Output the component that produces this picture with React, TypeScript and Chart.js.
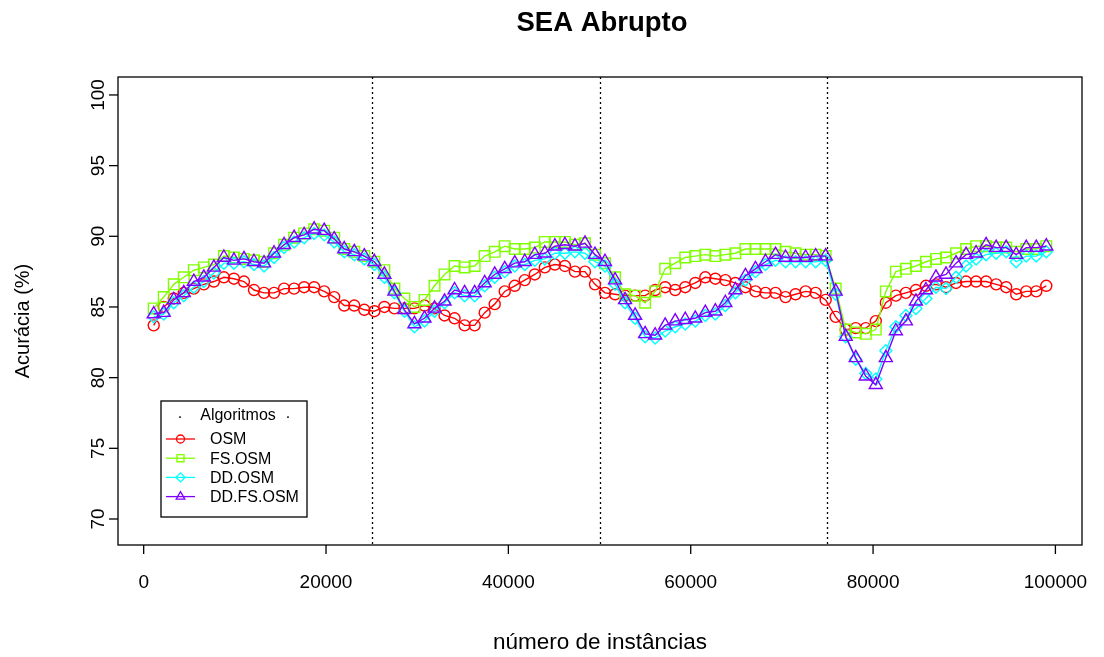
import React, { useEffect, useRef } from 'react';
import { Chart, registerables } from 'chart.js';

Chart.register(...registerables);

const chartTitle = 'SEA Abrupto';
const xTitle = 'número de instâncias';
const yTitle = 'Acurácia (%)';
const legendTitle = 'Algoritmos';

const instances = [
  1100, 2200, 3300, 4400, 5500, 6600, 7700, 8800, 9900, 11000,
  12100, 13200, 14300, 15400, 16500, 17600, 18700, 19800, 20900, 22000,
  23100, 24200, 25300, 26400, 27500, 28600, 29700, 30800, 31900, 33000,
  34100, 35200, 36300, 37400, 38500, 39600, 40700, 41800, 42900, 44000,
  45100, 46200, 47300, 48400, 49500, 50600, 51700, 52800, 53900, 55000,
  56100, 57200, 58300, 59400, 60500, 61600, 62700, 63800, 64900, 66000,
  67100, 68200, 69300, 70400, 71500, 72600, 73700, 74800, 75900, 77000,
  78100, 79200, 80300, 81400, 82500, 83600, 84700, 85800, 86900, 88000,
  89100, 90200, 91300, 92400, 93500, 94600, 95700, 96800, 97900, 99000,
];

const osm = [
  83.7, 85.0, 85.6, 86.0, 86.3, 86.6, 86.8, 87.1, 87.0, 86.8,
  86.2, 86.0, 86.0, 86.3, 86.3, 86.4, 86.4, 86.1, 85.7, 85.1,
  85.1, 84.8, 84.7, 85.0, 84.9, 84.9, 84.9, 85.1, 84.9, 84.4,
  84.2, 83.7, 83.7, 84.6, 85.2, 86.1, 86.5, 86.9, 87.3, 87.8,
  88.0, 87.9, 87.5, 87.5, 86.6, 86.0, 85.9, 85.8, 85.8, 85.8,
  86.2, 86.4, 86.2, 86.4, 86.7, 87.1, 87.0, 86.9, 86.7, 86.4,
  86.1, 86.0, 86.0, 85.7, 85.9, 86.1, 86.0, 85.5, 84.3, 83.4,
  83.5, 83.5, 84.0, 85.3, 85.8, 86.0, 86.2, 86.5, 86.6, 86.4,
  86.7, 86.8, 86.8, 86.8, 86.6, 86.4, 85.9, 86.1, 86.1, 86.5,
];

const fsOsm = [
  84.9, 85.7, 86.6, 87.1, 87.6, 87.8, 88.0, 88.6, 88.5, 88.4,
  88.3, 88.2, 88.8, 89.4, 89.9, 90.2, 90.5, 90.4, 89.9, 89.1,
  88.9, 88.6, 88.2, 87.6, 86.3, 85.6, 85.0, 85.5, 86.5, 87.3,
  87.9, 87.8, 87.9, 88.6, 88.9, 89.3, 89.1, 89.1, 89.2, 89.6,
  89.6, 89.6, 89.4, 89.5, 88.7, 88.1, 87.1, 85.9, 85.8, 85.3,
  86.1, 87.7, 88.1, 88.5, 88.6, 88.7, 88.6, 88.7, 88.8, 89.1,
  89.1, 89.1, 89.1, 88.9, 88.8, 88.7, 88.7, 88.6, 86.3, 83.4,
  83.2, 83.1, 83.4, 86.1, 87.5, 87.7, 87.9, 88.2, 88.4, 88.5,
  88.8, 89.1, 89.3, 89.3, 89.2, 89.2, 88.9, 89.1, 89.1, 89.3,
];

const ddOsm = [
  84.3, 84.5, 85.3, 85.8, 86.4, 86.8, 87.4, 88.1, 88.1, 88.2,
  88.0, 87.9, 88.5, 89.2, 89.6, 89.9, 90.2, 90.1, 89.6, 88.9,
  88.7, 88.4, 88.0, 87.1, 86.0, 84.7, 83.6, 84.0, 84.7, 85.3,
  86.0, 85.8, 85.8, 86.5, 87.1, 87.5, 87.9, 88.0, 88.3, 88.4,
  88.8, 88.8, 88.9, 88.8, 88.2, 87.9, 86.6, 85.3, 84.2, 82.9,
  82.8, 83.3, 83.6, 83.8, 84.0, 84.4, 84.5, 85.1, 86.0, 86.9,
  87.5, 88.0, 88.3, 88.2, 88.2, 88.2, 88.2, 88.3, 85.9, 82.9,
  81.3, 80.3, 79.9, 81.9, 83.6, 84.4, 84.9, 85.6, 86.4, 86.3,
  87.1, 87.9, 88.4, 88.7, 88.8, 88.9, 88.2, 88.6, 88.6, 88.9,
];

const ddFsOsm = [
  84.5, 84.6, 85.5, 86.0, 86.8, 87.1, 87.8, 88.5, 88.3, 88.4,
  88.2, 88.1, 88.8, 89.4, 89.9, 90.1, 90.5, 90.4, 89.8, 89.1,
  88.9, 88.6, 88.2, 87.3, 86.1, 84.8, 83.8, 84.2, 84.9, 85.4,
  86.2, 86.0, 86.0, 86.7, 87.3, 87.7, 88.1, 88.2, 88.7, 88.8,
  89.3, 89.4, 89.3, 89.5, 88.7, 88.2, 86.9, 85.5, 84.4, 83.1,
  83.0, 83.7, 84.0, 84.1, 84.2, 84.6, 84.7, 85.3, 86.2, 87.2,
  87.7, 88.2, 88.7, 88.5, 88.5, 88.5, 88.6, 88.6, 86.1, 82.9,
  81.4, 80.1, 79.5, 81.4, 83.3, 84.0, 85.4, 86.2, 87.1, 87.3,
  88.1, 88.7, 88.8, 89.4, 89.2, 89.2, 88.7, 89.2, 89.2, 89.3,
];

const seriesNames = ['OSM', 'FS.OSM', 'DD.OSM', 'DD.FS.OSM'];
const seriesColors = ['#FF0000', '#80FF00', '#00FFFF', '#8000FF'];
const seriesMarkers = ['circle', 'rect', 'rectRot', 'triangle'];
const seriesRadius = [5.5, 7.5, 6, 7.5];

const xTicks = [0, 20000, 40000, 60000, 80000, 100000];
const yTicks = [70, 75, 80, 85, 90, 95, 100];
const driftPoints = [25000, 50000, 75000];

const FONT = '"Liberation Sans", Arial, Helvetica, sans-serif';

function drawMarker(ctx: CanvasRenderingContext2D, style: string, x: number, y: number, r: number) {
  ctx.beginPath();
  if (style === 'circle') {
    ctx.arc(x, y, r, 0, Math.PI * 2);
  } else if (style === 'rect') {
    const s = r * Math.SQRT1_2;
    ctx.rect(x - s, y - s, 2 * s, 2 * s);
  } else if (style === 'rectRot') {
    ctx.moveTo(x - r, y);
    ctx.lineTo(x, y - r);
    ctx.lineTo(x + r, y);
    ctx.lineTo(x, y + r);
    ctx.closePath();
  } else {
    const h = r * 1.5;
    const side = h / (Math.sqrt(3) / 2);
    ctx.moveTo(x, y - (2 / 3) * h);
    ctx.lineTo(x + side / 2, y + h / 3);
    ctx.lineTo(x - side / 2, y + h / 3);
    ctx.closePath();
  }
  ctx.stroke();
}

const framePlugin = {
  id: 'rframe',
  beforeDatasetsDraw(chart: any) {
    const { ctx, chartArea, scales } = chart;
    ctx.save();
    ctx.strokeStyle = '#000000';
    ctx.lineWidth = 1.3;
    ctx.setLineDash([2, 3]);
    driftPoints.forEach((v) => {
      const px = Math.round(scales.x.getPixelForValue(v)) + 0.5;
      ctx.beginPath();
      ctx.moveTo(px, chartArea.top);
      ctx.lineTo(px, chartArea.bottom);
      ctx.stroke();
    });
    ctx.restore();
  },
  afterDraw(chart: any) {
    const { ctx, chartArea, scales } = chart;
    const { left, right, top, bottom } = chartArea;
    ctx.save();
    ctx.strokeStyle = '#000000';
    ctx.fillStyle = '#000000';
    ctx.lineWidth = 1.3;
    ctx.setLineDash([]);
    ctx.strokeRect(left, top, right - left, bottom - top);
    ctx.font = `19px ${FONT}`;
    ctx.textAlign = 'center';
    ctx.textBaseline = 'middle';
    xTicks.forEach((v) => {
      const px = scales.x.getPixelForValue(v);
      ctx.beginPath();
      ctx.moveTo(px, bottom);
      ctx.lineTo(px, bottom + 9);
      ctx.stroke();
      ctx.fillText(String(v), px, 583);
    });
    yTicks.forEach((v) => {
      const py = scales.y.getPixelForValue(v);
      ctx.beginPath();
      ctx.moveTo(left, py);
      ctx.lineTo(left - 9, py);
      ctx.stroke();
      ctx.save();
      ctx.translate(99, py);
      ctx.rotate(-Math.PI / 2);
      ctx.fillText(String(v), 0, 0);
      ctx.restore();
    });
    ctx.font = `22.5px ${FONT}`;
    ctx.fillText(xTitle, (left + right) / 2, 643);
    ctx.font = `20px ${FONT}`;
    ctx.save();
    ctx.translate(23, 321);
    ctx.rotate(-Math.PI / 2);
    ctx.fillText(yTitle, 0, 0);
    ctx.restore();
    ctx.font = `bold 27.5px ${FONT}`;
    ctx.fillText(chartTitle, (left + right) / 2 + 2, 23);

    const lx = 161, ly = 401, lw = 146, lh = 116;
    ctx.fillStyle = '#FFFFFF';
    ctx.fillRect(lx, ly, lw, lh);
    ctx.strokeStyle = '#000000';
    ctx.lineWidth = 1.3;
    ctx.strokeRect(lx, ly, lw, lh);
    ctx.fillStyle = '#000000';
    ctx.font = `16px ${FONT}`;
    ctx.textAlign = 'center';
    ctx.fillText(legendTitle, lx + lw / 2 + 4, 416);
    ctx.fillText('.', 180, 414);
    ctx.fillText('.', 288, 414);
    ctx.textAlign = 'left';
    chart.data.datasets.forEach((ds: any, i: number) => {
      const yy = 439 + i * 19.2;
      ctx.strokeStyle = ds.borderColor;
      ctx.lineWidth = 1.3;
      ctx.beginPath();
      ctx.moveTo(166, yy);
      ctx.lineTo(195, yy);
      ctx.stroke();
      drawMarker(ctx, ds.pointStyle, 180.5, yy, [4, 5, 4.5, 5][i]);
      ctx.fillStyle = '#000000';
      ctx.fillText(ds.label, 210, yy + 1);
    });
    ctx.restore();
  },
};

const seriesData = [osm, fsOsm, ddOsm, ddFsOsm];

export default function App() {
  const canvasRef = useRef<HTMLCanvasElement | null>(null);

  useEffect(() => {
    document.body.style.margin = '0';
    const canvas = canvasRef.current;
    if (!canvas) return;
    const datasets = seriesData.map((vals, i) => ({
      label: seriesNames[i],
      data: instances.map((x, j) => ({ x, y: vals[j] })),
      borderColor: seriesColors[i],
      backgroundColor: 'rgba(0,0,0,0)',
      pointStyle: seriesMarkers[i],
      pointRadius: seriesRadius[i],
      pointBorderWidth: 1.4,
      pointBorderColor: seriesColors[i],
      pointBackgroundColor: 'rgba(0,0,0,0)',
      borderWidth: 1.4,
      tension: 0,
      fill: false,
      order: 3 - i,
    }));
    const chart = new Chart(canvas, {
      type: 'line',
      data: { datasets },
      options: {
        responsive: false,
        animation: false,
        events: [],
        layout: { padding: { left: 118, top: 77, right: 22, bottom: 112 } },
        scales: {
          x: { type: 'linear', display: false, min: -2816, max: 102916 },
          y: { type: 'linear', display: false, min: 68.16, max: 101.27 },
        },
        plugins: {
          legend: { display: false },
          tooltip: { enabled: false },
          title: { display: false },
        },
      },
      plugins: [framePlugin],
    });
    return () => chart.destroy();
  }, []);

  return (
    <div style={{ position: 'absolute', left: 0, top: 0, width: 1104, height: 657, background: '#fff' }}>
      <canvas ref={canvasRef} width={1104} height={657} style={{ width: 1104, height: 657 }} />
    </div>
  );
}
